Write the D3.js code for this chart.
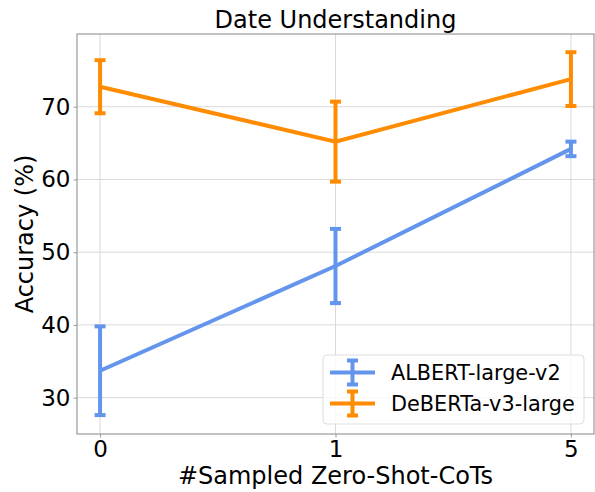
<!DOCTYPE html>
<html>
<head>
<meta charset="utf-8">
<script src="https://cdn.jsdelivr.net/npm/d3@7"></script>
<style>
  body { margin: 0; background: #fff; }
  svg { display: block; font-family: "DejaVu Sans", sans-serif; }
</style>
</head>
<body>
<svg></svg>
<script>
///////////////////////////////////////////
// Data
var categories = ["0", "1", "5"];
var albertMean = [33.7, 48.1, 64.2];
var albertErr  = [6.1, 5.1, 1.0];
var debertaMean = [72.75, 65.2, 73.8];
var debertaErr  = [3.65, 5.5, 3.7];
var yTicks = [30, 40, 50, 60, 70];

var series = [
  {name: "ALBERT-large-v2", color: "#6495ED", mean: albertMean, err: albertErr},
  {name: "DeBERTa-v3-large", color: "#FF8C00", mean: debertaMean, err: debertaErr}
];

///////////////////////////////////////////
// Layout Setting
var svgWidth = 595,
    svgHeight = 492;
var margin = {top: 34, right: 1, bottom: 58, left: 77},
    width = svgWidth - margin.left - margin.right,
    height = svgHeight - margin.top - margin.bottom;

var svg = d3.select("svg").attr("width", svgWidth).attr("height", svgHeight);
var g = svg.append("g").attr("transform", "translate(" + [margin.left, margin.top] + ")");

var x = d3.scalePoint().domain(categories).range([0, width]).padding(0.098);
var y = d3.scaleLinear().domain([25, 80]).range([height, 0]);

///////////////////////////////////////////
// Grid
g.append("g").selectAll("line").data(yTicks).enter().append("line")
  .attr("x1", 0).attr("x2", width)
  .attr("y1", function(d){ return y(d); }).attr("y2", function(d){ return y(d); })
  .attr("stroke", "#d9d9d9").attr("stroke-width", 1);
g.append("g").selectAll("line").data(categories).enter().append("line")
  .attr("y1", 0).attr("y2", height)
  .attr("x1", function(d){ return x(d); }).attr("x2", function(d){ return x(d); })
  .attr("stroke", "#d9d9d9").attr("stroke-width", 1);

///////////////////////////////////////////
// Axes
var xAxis = g.append("g").attr("transform", "translate(0," + height + ")")
  .call(d3.axisBottom(x).tickSizeInner(3.5).tickSizeOuter(0).tickPadding(3));
var yAxis = g.append("g")
  .call(d3.axisLeft(y).tickValues(yTicks).tickSizeInner(3.5).tickSizeOuter(0).tickPadding(3));
[xAxis, yAxis].forEach(function(a){
  a.select(".domain").remove();
  a.selectAll(".tick line").attr("stroke", "#999");
  a.selectAll(".tick text").attr("fill", "#000")
    .style("font-size", "23px").style("font-family", "DejaVu Sans");
});

// spines
g.append("rect").attr("x", 0).attr("y", 0).attr("width", width).attr("height", height)
  .attr("fill", "none").attr("stroke", "#9a9a9a").attr("stroke-width", 1.2);

///////////////////////////////////////////
// Lines with error bars
var capW = 5.5, lw = 4;
series.forEach(function(s){
  var pts = categories.map(function(c, i){ return {c: c, m: s.mean[i], e: s.err[i]}; });
  var line = d3.line().x(function(d){ return x(d.c); }).y(function(d){ return y(d.m); });
  var sg = g.append("g");
  sg.append("path").datum(pts).attr("d", line)
    .attr("fill", "none").attr("stroke", s.color).attr("stroke-width", lw);
  var eb = sg.selectAll(".eb").data(pts).enter().append("g");
  eb.append("line")
    .attr("x1", function(d){ return x(d.c); }).attr("x2", function(d){ return x(d.c); })
    .attr("y1", function(d){ return y(d.m - d.e); }).attr("y2", function(d){ return y(d.m + d.e); })
    .attr("stroke", s.color).attr("stroke-width", lw);
  [-1, 1].forEach(function(sign){
    eb.append("line")
      .attr("x1", function(d){ return x(d.c) - capW; }).attr("x2", function(d){ return x(d.c) + capW; })
      .attr("y1", function(d){ return y(d.m + sign * d.e); }).attr("y2", function(d){ return y(d.m + sign * d.e); })
      .attr("stroke", s.color).attr("stroke-width", lw);
  });
});

///////////////////////////////////////////
// Title and labels
svg.append("text").attr("x", margin.left + width / 2).attr("y", 28)
  .attr("text-anchor", "middle").style("font-size", "24px").text("Date Understanding");
svg.append("text").attr("x", margin.left + width / 2).attr("y", 484)
  .attr("text-anchor", "middle").style("font-size", "24px").text("#Sampled Zero-Shot-CoTs");
svg.append("text")
  .attr("transform", "translate(33," + (margin.top + height / 2) + ") rotate(-90)")
  .attr("text-anchor", "middle").style("font-size", "24px").text("Accuracy (%)");

///////////////////////////////////////////
// Legend
var lg = svg.append("g").attr("transform", "translate(323,355)");
lg.append("rect").attr("width", 261).attr("height", 69).attr("rx", 4)
  .attr("fill", "#fff").attr("fill-opacity", 0.8).attr("stroke", "#ddd").attr("stroke-width", 1);
series.forEach(function(s, i){
  var cy = 17.5 + i * 31;
  var it = lg.append("g");
  it.append("line").attr("x1", 7).attr("x2", 52).attr("y1", cy).attr("y2", cy)
    .attr("stroke", s.color).attr("stroke-width", lw);
  it.append("line").attr("x1", 29.5).attr("x2", 29.5).attr("y1", cy - 12).attr("y2", cy + 12)
    .attr("stroke", s.color).attr("stroke-width", lw);
  [-12, 12].forEach(function(o){
    it.append("line").attr("x1", 29.5 - capW).attr("x2", 29.5 + capW).attr("y1", cy + o).attr("y2", cy + o)
      .attr("stroke", s.color).attr("stroke-width", lw);
  });
  it.append("text").attr("x", 68).attr("y", cy + 7.5).style("font-size", "20.8px").text(s.name);
});
</script>
</body>
</html>
